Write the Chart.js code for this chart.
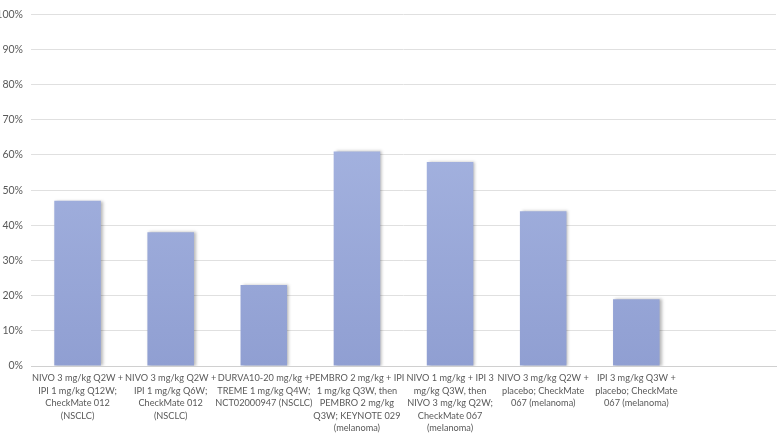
<!DOCTYPE html>
<html>
<head>
<meta charset="utf-8">
<script src="https://cdn.jsdelivr.net/npm/chart.js@4.4.1/dist/chart.umd.min.js"></script>
<style>
  html, body { margin: 0; padding: 0; background: #fff; }
  #wrap { width: 778px; height: 433px; }
</style>
</head>
<body>
<div id="wrap"><canvas id="myChart"></canvas></div>
<script>
// regimen labels, one array of lines per bar (last category is empty in the original)
const regimens = [
    ['NIVO 3 mg/kg Q2W +', 'IPI 1 mg/kg Q12W;', 'CheckMate 012', '(NSCLC)'],
    ['NIVO 3 mg/kg Q2W +', 'IPI 1 mg/kg Q6W;', 'CheckMate 012', '(NSCLC)'],
    ['DURVA10-20 mg/kg +', 'TREME 1 mg/kg Q4W;', 'NCT02000947 (NSCLC)'],
    ['PEMBRO 2 mg/kg + IPI', '1 mg/kg Q3W, then', 'PEMBRO 2 mg/kg', 'Q3W; KEYNOTE 029', '(melanoma)'],
    ['NIVO 1 mg/kg + IPI 3', 'mg/kg Q3W, then', 'NIVO 3 mg/kg Q2W;', 'CheckMate 067', '(melanoma)'],
    ['NIVO 3 mg/kg Q2W +', 'placebo; CheckMate', '067 (melanoma)'],
    ['IPI 3 mg/kg Q3W +', 'placebo; CheckMate', '067 (melanoma)'],
    ''
];
const responseRate = [47, 38, 23, 61, 58, 44, 19, null]; // percent

function barFill(context) {
    const chart = context.chart;
    const area = chart.chartArea;
    if (!area) return '#a2b1dd';
    const g = chart.ctx.createLinearGradient(0, area.top, 0, area.bottom);
    g.addColorStop(0, '#aebce6');
    g.addColorStop(1, '#909fd2');
    return g;
}

// soft grey shadow on the right of each bar
const barShadow = {
    id: 'barShadow',
    beforeDatasetDraw(chart) {
        const ctx = chart.ctx;
        ctx.save();
        ctx.shadowColor = 'rgba(0,0,0,0.28)';
        ctx.shadowBlur = 3;
        ctx.shadowOffsetX = 2;
        ctx.shadowOffsetY = 0;
    },
    afterDatasetDraw(chart) {
        chart.ctx.restore();
    }
};

const ctx = document.getElementById('myChart');
new Chart(ctx, {
    type: 'bar',
    data: {
        labels: regimens,
        datasets: [{
            data: responseRate,
            backgroundColor: barFill,
            borderWidth: 0,
            categoryPercentage: 1.0,
            barPercentage: 0.5
        }]
    },
    plugins: [barShadow],
    options: {
        responsive: true,
        maintainAspectRatio: false,
        animation: false,
        layout: { padding: { top: 4, right: 2, left: 0, bottom: 0 } },
        plugins: {
            legend: { display: false },
            tooltip: { enabled: false }
        },
        scales: {
            x: {
                grid: { display: false, drawTicks: false },
                border: { color: '#d0d0d0' },
                ticks: {
                    color: '#595959',
                    font: { family: 'Lato', size: 9.2, lineHeight: 1.36 },
                    maxRotation: 0,
                    autoSkip: false,
                    padding: 6
                },
                afterFit: scale => { scale.height = 67; }
            },
            y: {
                min: 0,
                max: 100,
                grid: { color: '#e0e0e0', drawTicks: false },
                border: { display: false },
                ticks: {
                    stepSize: 10,
                    color: '#595959',
                    font: { family: 'Lato', size: 10.5 },
                    padding: 8,
                    callback: v => v + '%'
                },
                afterFit: scale => { scale.width = 31; }
            }
        }
    }
});
</script>
</body>
</html>
